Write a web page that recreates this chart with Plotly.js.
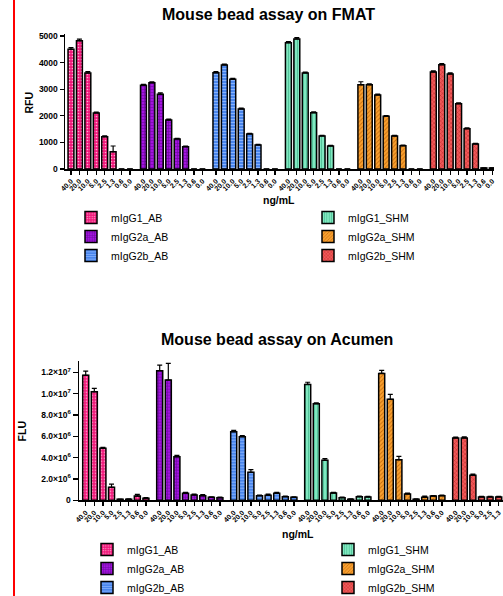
<!DOCTYPE html>
<html><head><meta charset="utf-8">
<script src="https://cdn.plot.ly/plotly-3.0.1.min.js"></script>
<style>html,body{margin:0;padding:0;background:#fff;}#chart{width:503px;height:596px;}</style>
</head><body><div id="chart"></div>
<script>
// ---- data ----
const doses = ['40.0','20.0','10.0','5.0','2.5','1.3','0.6','0.0'];
const seriesNames = ['mIgG1_AB','mIgG2a_AB','mIgG2b_AB','mIgG1_SHM','mIgG2a_SHM','mIgG2b_SHM'];

// FMAT (RFU)
const fmatG1AB   = [4500, 4823, 3609, 2105, 1214, 650, 0, 0];
const fmatG2aAB  = [3146, 3245, 2808, 1842, 1128, 838, 0, 0];
const fmatG2bAB  = [3620, 3910, 3372, 2256, 1316, 902, 0, 0];
const fmatG1SHM  = [4748, 4887, 3609, 2117, 1241, 865, 0, 0];
const fmatG2aSHM = [3170, 3170, 2782, 1980, 1241, 877, 0, 0];
const fmatG2bSHM = [3647, 3922, 3571, 2456, 1516, 940, 40, 40];
const fmatErrG1AB   = [60, 60, 50, 30, 30, 215, 0, 0];
const fmatErrG2aAB  = [40, 30, 50, 30, 20, 20, 0, 0];
const fmatErrG2bAB  = [40, 30, 40, 30, 20, 20, 0, 0];
const fmatErrG1SHM  = [40, 50, 30, 30, 20, 20, 0, 0];
const fmatErrG2aSHM = [110, 30, 30, 30, 20, 20, 0, 0];
const fmatErrG2bSHM = [40, 40, 40, 30, 30, 20, 0, 0];

// Acumen (FLU)
const acuG1AB   = [11.72e6, 10.18e6, 4.87e6, 1.22e6, 0.09e6, 0.10e6, 0.40e6, 0.20e6];
const acuG2aAB  = [12.15e6, 11.28e6, 4.09e6, 0.66e6, 0.50e6, 0.43e6, 0.28e6, 0.25e6];
const acuG2bAB  = [6.43e6, 5.97e6, 2.62e6, 0.43e6, 0.47e6, 0.66e6, 0.34e6, 0.28e6];
const acuG1SHM  = [10.87e6, 9.06e6, 3.75e6, 0.68e6, 0.25e6, 0.10e6, 0.34e6, 0.32e6];
const acuG2aSHM = [11.90e6, 9.47e6, 3.81e6, 0.59e6, 0.10e6, 0.28e6, 0.40e6, 0.43e6];
const acuG2bSHM = [5.84e6, 5.84e6, 2.34e6, 0.31e6, 0.31e6, 0.31e6, 0.30e6, 0.30e6];
const acuErrG1AB   = [0.40e6, 0.32e6, 0.10e6, 0.30e6, 0.03e6, 0.03e6, 0.15e6, 0.05e6];
const acuErrG2aAB  = [0.53e6, 1.56e6, 0.12e6, 0.08e6, 0.08e6, 0.10e6, 0.05e6, 0.05e6];
const acuErrG2bAB  = [0.12e6, 0.10e6, 0.25e6, 0.05e6, 0.10e6, 0.08e6, 0.05e6, 0.05e6];
const acuErrG1SHM  = [0.20e6, 0.08e6, 0.15e6, 0.06e6, 0.04e6, 0.03e6, 0.05e6, 0.05e6];
const acuErrG2aSHM = [0.28e6, 0.47e6, 0.30e6, 0.08e6, 0.03e6, 0.12e6, 0.05e6, 0.06e6];
const acuErrG2bSHM = [0.08e6, 0.10e6, 0.12e6, 0.05e6, 0.05e6, 0.05e6, 0.05e6, 0.05e6];

const fmatTickVals = [0, 1000, 2000, 3000, 4000, 5000];
const fmatTickText = ['0', '1000', '2000', '3000', '4000', '5000'];
const acuTickVals = [0, 2e6, 4e6, 6e6, 8e6, 10e6, 12e6];
const acuTickText = ['0', '2.0×10<sup>6</sup>', '4.0×10<sup>6</sup>', '6.0×10<sup>6</sup>', '8.0×10<sup>6</sup>', '1.0×10<sup>7</sup>', '1.2×10<sup>7</sup>'];

// ---- styles ----
const FONT = 'Arial, "Liberation Sans", sans-serif';
const styles = [
  {color:'#f0187a', fg:'#ffa8cf', shape:'.', size:3, sol:0.25},
  {color:'#a414e0', fg:'#6a0a9a', shape:'+', size:3, sol:0.35},
  {color:'#4a86ec', fg:'#8fb8ff', shape:'-', size:3, sol:0.3},
  {color:'#80e8c0', fg:'#4fbf96', shape:'|', size:3, sol:0.3},
  {color:'#f8a030', fg:'#c86f10', shape:'/', size:3, sol:0.3},
  {color:'#f05a5a', fg:'#c02a2a', shape:'x', size:3, sol:0.3}
];
const groupStep = 8.6;
const pos = (g, i) => g * groupStep + i;

const fmatSeries = [fmatG1AB, fmatG2aAB, fmatG2bAB, fmatG1SHM, fmatG2aSHM, fmatG2bSHM];
const fmatErrs = [fmatErrG1AB, fmatErrG2aAB, fmatErrG2bAB, fmatErrG1SHM, fmatErrG2aSHM, fmatErrG2bSHM];
const acuSeries = [acuG1AB, acuG2aAB, acuG2bAB, acuG1SHM, acuG2aSHM, acuG2bSHM];
const acuErrs = [acuErrG1AB, acuErrG2aAB, acuErrG2bAB, acuErrG1SHM, acuErrG2aSHM, acuErrG2bSHM];

function makeTrace(g, vals, errs, xa, ya, legend) {
  const s = styles[g];
  return {
    type:'bar', name: seriesNames[g], x: vals.map((v,i)=>pos(g,i)), y: vals,
    xaxis: xa, yaxis: ya, legend: legend, width: 0.7,
    marker: {color: s.color, line:{color:'#000', width:1.5},
      pattern:{shape:s.shape, fgcolor:s.fg, bgcolor:s.color, size:s.size, solidity:s.sol, fillmode:'replace'}},
    error_y: {type:'data', symmetric:false, array: errs, arrayminus: errs.map(()=>0), color:'#000', thickness:1.2, width:2.5},
    hoverinfo:'x+y'
  };
}

const traces = [];
for (let g = 0; g < 6; g++) traces.push(makeTrace(g, fmatSeries[g], fmatErrs[g], 'x', 'y', g < 3 ? 'legend' : 'legend2'));
for (let g = 0; g < 6; g++) traces.push(makeTrace(g, acuSeries[g], acuErrs[g], 'x2', 'y2', g < 3 ? 'legend3' : 'legend4'));

const tickVals = [], tickText = [];
for (let g = 0; g < 6; g++) for (let i = 0; i < doses.length; i++) { tickVals.push(pos(g,i)); tickText.push(doses[i]); }

const W = 503, H = 596;
const px = v => v / W, py = v => 1 - v / H;
const axBase = {showline:true, linecolor:'#000', linewidth:1.5, ticks:'outside', tickcolor:'#000', tickwidth:1.2,
  showgrid:false, zeroline:false, fixedrange:true};
const xTickFont = {family:FONT, size:7, color:'#000', weight:'bold'};
const yTickFont = {family:FONT, size:8.5, color:'#000', weight:'bold'};
const legFont = {family:FONT, size:10.5, color:'#000'};
const legBase = {orientation:'v', xanchor:'left', yanchor:'top', font:legFont, bgcolor:'rgba(0,0,0,0)', traceorder:'normal'};

const layout = {
  width: W, height: H, margin:{l:0, r:0, t:0, b:0, autoexpand:false}, paper_bgcolor:'#fff', plot_bgcolor:'#fff',
  barmode:'overlay', font:{family:FONT, color:'#000'},
  xaxis: Object.assign({}, axBase, {domain:[px(65), px(494)], range:[-0.71, 50.2], anchor:'y', ticklen:4,
    tickmode:'array', tickvals: tickVals, ticktext: tickText, tickangle:-45, tickfont: xTickFont}),
  yaxis: Object.assign({}, axBase, {domain:[py(169), py(34)], range:[0, 5075], anchor:'x', ticklen:4,
    tickmode:'array', tickvals: fmatTickVals, ticktext: fmatTickText, tickfont: yTickFont}),
  xaxis2: Object.assign({}, axBase, {domain:[px(79), 1], range:[-0.78, 48.5], anchor:'y2', ticklen:4,
    tickmode:'array', tickvals: tickVals, ticktext: tickText, tickangle:-45, tickfont: xTickFont}),
  yaxis2: Object.assign({}, axBase, {domain:[py(500.3), py(360.7)], range:[0, 1.309e7], anchor:'x2', ticklen:5,
    tickmode:'array', tickvals: acuTickVals, ticktext: acuTickText, tickfont: yTickFont}),
  legend:  Object.assign({}, legBase, {x: px(71),  y: py(203)}),
  legend2: Object.assign({}, legBase, {x: px(308), y: py(203)}),
  legend3: Object.assign({}, legBase, {x: px(87),  y: py(535)}),
  legend4: Object.assign({}, legBase, {x: px(328), y: py(535)}),
  shapes: [{type:'line', xref:'paper', yref:'paper', x0:px(14), x1:px(14), y0:0, y1:1, line:{color:'#ff0000', width:2}}],
  annotations: [
    {text:'<b>Mouse bead assay on FMAT</b>', xref:'paper', yref:'paper', x:px(268), y:py(14), xanchor:'center', yanchor:'middle', showarrow:false, font:{family:FONT, size:16, color:'#000'}},
    {text:'<b>Mouse bead assay on Acumen</b>', xref:'paper', yref:'paper', x:px(277), y:py(339), xanchor:'center', yanchor:'middle', showarrow:false, font:{family:FONT, size:16, color:'#000'}},
    {text:'<b>RFU</b>', xref:'paper', yref:'paper', x:px(28), y:py(102.5), xanchor:'center', yanchor:'middle', textangle:-90, showarrow:false, font:{family:FONT, size:10.5, color:'#000'}},
    {text:'<b>FLU</b>', xref:'paper', yref:'paper', x:px(21.7), y:py(431.7), xanchor:'center', yanchor:'middle', textangle:-90, showarrow:false, font:{family:FONT, size:10.5, color:'#000'}},
    {text:'<b>ng/mL</b>', xref:'paper', yref:'paper', x:px(279.3), y:py(200.5), xanchor:'center', yanchor:'middle', showarrow:false, font:{family:FONT, size:10.5, color:'#000'}},
    {text:'<b>ng/mL</b>', xref:'paper', yref:'paper', x:px(297.5), y:py(533.5), xanchor:'center', yanchor:'middle', showarrow:false, font:{family:FONT, size:10.5, color:'#000'}}
  ]
};

Plotly.newPlot('chart', traces, layout, {displayModeBar:false, staticPlot:true});
</script>
</body></html>
